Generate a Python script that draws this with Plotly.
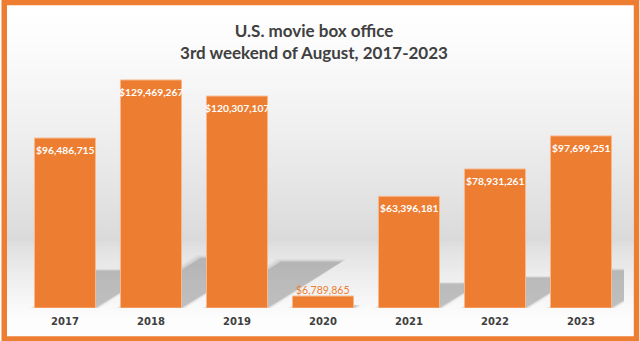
import plotly.graph_objects as go

# Weekend box office, 3rd weekend of August
years = ["2017", "2018", "2019", "2020", "2021", "2022", "2023"]
gross = [96486715, 129469267, 120307107, 6789865, 63396181, 78931261, 97699251]

ORANGE = "#ED7D31"
TEXT_DARK = "#404040"

W, H = 640, 341
M = dict(l=22, r=16, t=60, b=33)
Y_MAX = 140.8e6
plot_w = W - M["l"] - M["r"]
plot_h = H - M["t"] - M["b"]
px_per_x = plot_w / len(years)
px_per_y = plot_h / Y_MAX

xs = list(range(len(years)))
bar_w = 0.71

fig = go.Figure()
fig.add_trace(go.Bar(
    x=xs, y=gross, width=bar_w,
    marker=dict(color=ORANGE, line=dict(color="#F6B98C", width=1)),
    hoverinfo="skip",
))

shapes = []

# chart-area background: white "wall" fading to grey, then a light "floor"
def lerp(a, b, f):
    return a + (b - a) * f

band = 2
y = 5
while y < 337:
    if y < 240:
        f = (y - 5) / 235
        g = lerp(255, 218, f ** 1.3)
    else:
        f = min((y - 240) / 78, 1)
        g = lerp(220, 253, f ** 0.8)
    c = int(round(g))
    shapes.append(dict(
        type="rect", xref="paper", yref="paper", layer="below",
        x0=(7 - M["l"]) / plot_w, x1=(633.5 - M["l"]) / plot_w,
        y0=1 - (y + band - M["t"]) / plot_h, y1=1 - (y - M["t"]) / plot_h,
        fillcolor=f"rgb({c},{c},{c})", line=dict(width=0),
    ))
    y += band

# perspective shadows cast up and to the right of each bar
k_h = 0.22   # shadow height relative to bar
skew = 1.6   # horizontal px per px of shadow height
for xi, v in zip(xs, gross):
    sh = k_h * v
    dx = skew * sh * px_per_y / px_per_x
    x0, x1 = xi - bar_w / 2, xi + bar_w / 2
    for grow, alpha in ((0.05, 0.08), (0.025, 0.12), (0.0, 0.27)):
        g = grow
        path = (f"M {x0 - g},0 L {x1 + g},0 "
                f"L {x1 + dx + g},{sh * (1 + g)} L {x0 + dx - g},{sh * (1 + g)} Z")
        shapes.append(dict(
            type="path", xref="x", yref="y", layer="below", path=path,
            fillcolor=f"rgba(110,110,110,{alpha})", line=dict(width=0),
        ))

# orange frame around the chart area
shapes.append(dict(
    type="rect", xref="paper", yref="paper", layer="above",
    x0=(4.25 - M["l"]) / plot_w, x1=(636.5 - M["l"]) / plot_w,
    y0=1 - (339 - M["t"]) / plot_h, y1=1 - (2.5 - M["t"]) / plot_h,
    line=dict(color=ORANGE, width=5.5), fillcolor="rgba(0,0,0,0)",
))

# value labels: inside the bar top, or just above very short bars
annotations = []
for xi, v in zip(xs, gross):
    label = f"${v:,.0f}"
    if v > 20e6:
        annotations.append(dict(
            x=xi, y=v, xref="x", yref="y", text=label, showarrow=False,
            yanchor="middle", yshift=-12,
            font=dict(family="Lato", size=10.3, color="white", weight="bold"),
        ))
    else:
        annotations.append(dict(
            x=xi, y=v, xref="x", yref="y", text=label, showarrow=False,
            yanchor="bottom", yshift=-2,
            font=dict(family="Lato", size=10.5, color=ORANGE),
        ))

fig.update_layout(
    width=W, height=H, margin=M,
    paper_bgcolor="white", plot_bgcolor="rgba(0,0,0,0)",
    showlegend=False,
    title=dict(
        text="U.S. movie box office<br>3rd weekend of August, 2017-2023",
        x=314 / W, xref="container", xanchor="center",
        y=1 - 37 / H, yref="container", yanchor="middle",
        font=dict(family="Lato", size=17, color=TEXT_DARK, weight="bold"),
    ),
    xaxis=dict(
        range=[-0.5, len(years) - 0.5], tickvals=xs, ticktext=years,
        showgrid=False, zeroline=False, showline=False, ticks="",
        ticklabelstandoff=6,
        tickfont=dict(family="DejaVu Sans", size=10, color=TEXT_DARK, weight="bold"),
        fixedrange=True,
    ),
    yaxis=dict(range=[0, Y_MAX], visible=False, fixedrange=True),
    shapes=shapes,
    annotations=annotations,
)

fig.write_html("out.html", config={"displayModeBar": False})
